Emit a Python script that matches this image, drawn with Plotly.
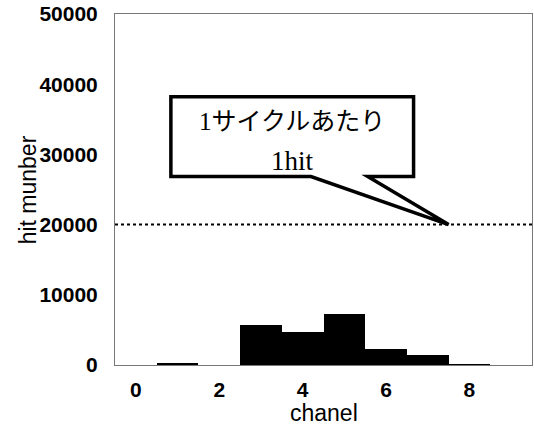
import plotly.graph_objects as go

# Hits per channel
channels = [0, 1, 2, 3, 4, 5, 6, 7, 8, 9]
hits = [0, 150, 0, 5750, 4700, 7300, 2250, 1380, 80, 0]

# Reference level: one hit per cycle
hit_per_cycle = 20000

x_ticks = [0, 2, 4, 6, 8]
y_ticks = [0, 10000, 20000, 30000, 40000, 50000]

callout_lines = ["1サイクルあたり", "1hit"]

fig = go.Figure()
fig.add_trace(go.Bar(
    x=channels, y=hits, width=1.0,
    marker=dict(color="black", line=dict(width=0)),
    showlegend=False,
))

# Dotted reference line
fig.add_shape(type="line", xref="paper", x0=0, x1=1, yref="y",
              y0=hit_per_cycle, y1=hit_per_cycle,
              line=dict(color="black", width=2, dash="dot"))

# Speech-bubble callout whose tail points at the reference line
bx0, bx1 = 0.84, 6.66
by0, by1 = 26850, 38200
tl, tr = 4.2, 5.56
tip_x = 7.5
path = (f"M {bx0},{by1} L {bx1},{by1} L {bx1},{by0} L {tr},{by0} "
        f"L {tip_x},{hit_per_cycle} L {tl},{by0} L {bx0},{by0} Z")
fig.add_shape(type="path", path=path, xref="x", yref="y",
              fillcolor="white", line=dict(color="black", width=3.5))

cx = (bx0 + bx1) / 2
for text, yv, fs in zip(callout_lines, [34700, 29100], [25, 27]):
    fig.add_annotation(x=cx, y=yv, xref="x", yref="y", text=text,
                       showarrow=False,
                       font=dict(family="Liberation Serif, Noto Sans CJK JP",
                                 size=fs, color="black"))

axis_font = dict(family="Liberation Sans, Arial", size=21, color="black", weight="bold")
title_font = dict(family="Liberation Sans, Arial", size=23, color="black")

fig.update_xaxes(range=[-0.5, 9.5], tickvals=x_ticks, ticktext=[str(v) for v in x_ticks],
                 tickfont=axis_font, showgrid=False, zeroline=False,
                 showline=True, linecolor="#777", linewidth=1, mirror=True,
                 ticks="", ticklabelstandoff=6)
fig.update_yaxes(range=[0, 50000], tickvals=y_ticks, ticktext=[str(v) for v in y_ticks],
                 tickfont=axis_font, showgrid=False, zeroline=False,
                 showline=True, linecolor="#777", linewidth=1, mirror=True,
                 ticks="", ticklabelstandoff=12)

# Axis titles
fig.add_annotation(text="chanel", xref="paper", yref="paper", x=0.5, y=-0.136,
                   xanchor="center", yanchor="middle", showarrow=False, font=title_font)
fig.add_annotation(text="hit munber", xref="paper", yref="paper", x=-0.209, y=0.5,
                   xanchor="center", yanchor="middle", textangle=-90,
                   showarrow=False, font=title_font)

fig.update_layout(
    width=534, height=429,
    margin=dict(l=115, r=2, t=14, b=64),
    paper_bgcolor="white", plot_bgcolor="white",
    bargap=0,
)

fig.write_html("out.html")
